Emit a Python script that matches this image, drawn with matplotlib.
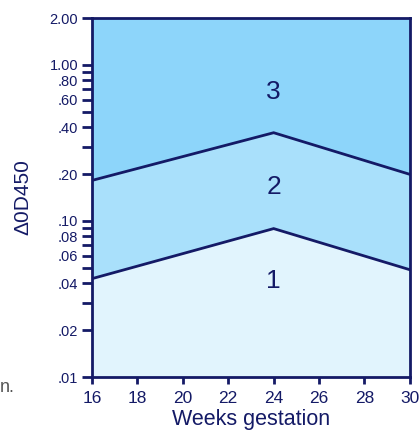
import matplotlib
matplotlib.use("Agg")
import matplotlib.pyplot as plt
from matplotlib.ticker import FixedLocator, NullFormatter

plt.rcParams['font.family'] = ['Liberation Sans', 'DejaVu Sans']

weeks = [16, 24, 30]
lower_boundary = [0.0427, 0.0894, 0.0487]
upper_boundary = [0.182, 0.368, 0.199]
zone_labels = ["1", "2", "3"]
zone_label_y = [0.0414, 0.166, 0.67]
x_ticks = [16, 18, 20, 22, 24, 26, 28, 30]
y_major = [0.01, 0.02, 0.04, 0.06, 0.08, 0.10, 0.20, 0.40, 0.60, 0.80, 1.00, 2.00]
y_major_labels = [".01", ".02", ".04", ".06", ".08", ".10", ".20", ".40", ".60", ".80", "1.00", "2.00"]
y_minor = [0.03, 0.05, 0.07, 0.09, 0.30, 0.50, 0.70, 0.90]

navy = "#141a66"
c1, c2, c3 = "#e1f4fd", "#a9e0fb", "#8dd5fa"

fig = plt.figure(figsize=(4.2, 4.34), dpi=100)
ax = fig.add_axes([0.219, 0.1313, 0.757, 0.8272])
ax.set_yscale('log')
ax.set_xlim(16, 30)
ax.set_ylim(0.01, 2.0)

ax.fill_between(weeks, 0.01, lower_boundary, color=c1, lw=0)
ax.fill_between(weeks, lower_boundary, upper_boundary, color=c2, lw=0)
ax.fill_between(weeks, upper_boundary, 2.0, color=c3, lw=0)
ax.plot(weeks, lower_boundary, color=navy, lw=2, solid_joinstyle='miter')
ax.plot(weeks, upper_boundary, color=navy, lw=2, solid_joinstyle='miter')

for lab, yv in zip(zone_labels, zone_label_y):
    ax.text(24, yv, lab, color=navy, fontsize=19, ha='center', va='center')

for s in ax.spines.values():
    s.set_color(navy)
    s.set_linewidth(2)

ax.set_xticks(x_ticks)
ax.set_xticklabels([str(v) for v in x_ticks])
ax.yaxis.set_major_locator(FixedLocator(y_major))
ax.set_yticklabels(y_major_labels)
ax.yaxis.set_minor_locator(FixedLocator(y_minor))
ax.yaxis.set_minor_formatter(NullFormatter())
ax.tick_params(axis='both', which='both', colors=navy, width=2, labelcolor=navy)
ax.tick_params(axis='y', which='both', length=7, pad=3, labelsize=10.5)
ax.tick_params(axis='x', which='both', length=5, pad=5, labelsize=12.5)

ax.set_xlabel("Weeks gestation", color=navy, fontsize=15.5, labelpad=2)
ax.set_ylabel("Δ0D450", color=navy, fontsize=15, labelpad=12)

fig.text(0.0, 0.108, "n.", color="#555555", fontsize=13, ha='left', va='center')

fig.savefig("out.png", dpi=100)
